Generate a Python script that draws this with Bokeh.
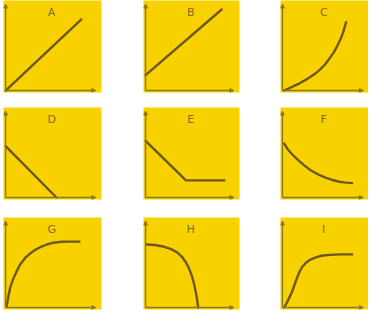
from bokeh.plotting import figure
from bokeh.layouts import column, row
from bokeh.models import Range1d, Arrow, NormalHead
from bokeh.core.properties import value
from bokeh.embed import file_html
from bokeh.resources import INLINE

labels = ["A", "B", "C", "D", "E", "F", "G", "H", "I"]

a_x = [0.0, 7.9]
a_y = [0.0, 7.9]
b_x = [0.0, 8.1]
b_y = [1.7, 9.0]
c_x = [0.2, 1.0, 2.0, 3.0, 3.7, 4.4, 5.0, 5.5, 6.0, 6.4, 6.8, 7.1, 7.4]
c_y = [0.0, 0.35, 0.8, 1.35, 1.8, 2.35, 2.95, 3.6, 4.3, 5.0, 5.8, 6.6, 7.6]
d_x = [0.0, 5.3]
d_y = [5.7, 0.0]
e_x = [0.0, 4.3, 8.4]
e_y = [6.3, 1.9, 1.9]
f_x = [0.2, 0.6, 1.0, 1.5, 1.9, 2.5, 3.1, 3.7, 4.4, 5.0, 5.8, 6.6, 7.4, 8.1]
f_y = [6.0, 5.4, 4.95, 4.45, 4.1, 3.6, 3.15, 2.8, 2.45, 2.2, 1.95, 1.75, 1.65, 1.6]
g_x = [0.1, 0.3, 0.5, 0.8, 1.1, 1.5, 2.0, 2.5, 3.0, 3.6, 4.3, 5.0, 5.8, 6.6, 7.7]
g_y = [0.1, 1.3, 2.3, 3.2, 3.9, 4.75, 5.45, 5.95, 6.35, 6.7, 7.0, 7.2, 7.3, 7.32, 7.32]
h_x = [0.1, 1.0, 2.0, 2.8, 3.4, 3.9, 4.3, 4.6, 4.9, 5.15, 5.35, 5.5, 5.6]
h_y = [7.0, 6.95, 6.75, 6.45, 6.1, 5.6, 5.0, 4.4, 3.6, 2.7, 1.7, 0.8, 0.0]
i_x = [0.2, 0.5, 0.8, 1.1, 1.4, 1.7, 2.0, 2.3, 2.7, 3.2, 3.8, 4.5, 5.5, 6.8, 8.1]
i_y = [0.0, 0.5, 1.1, 1.7, 2.5, 3.3, 4.0, 4.5, 4.95, 5.3, 5.55, 5.75, 5.85, 5.9, 5.9]

series = [(a_x, a_y), (b_x, b_y), (c_x, c_y), (d_x, d_y), (e_x, e_y),
          (f_x, f_y), (g_x, g_y), (h_x, h_y), (i_x, i_y)]

YELLOW = "#f7d200"
AXIS = "#8c7a14"
CURVE = "#6e5820"
LABEL = "#7d6c34"

col_w = [140, 136, 92]
col_l = [3, 3, 4]
col_r = [39, 37, 0]
row_h = [105, 109, 97]
row_t = [0, 2, 3]
row_b = [13, 15, 2]

rows = []
for r in range(3):
    figs = []
    for c in range(3):
        k = r * 3 + c
        p = figure(width=col_w[c], height=row_h[r], output_backend="svg",
                   toolbar_location=None, x_axis_location=None, y_axis_location=None,
                   x_range=Range1d(-0.22, 10), y_range=Range1d(-0.22, 10),
                   min_border_left=col_l[c], min_border_right=col_r[c],
                   min_border_top=row_t[r], min_border_bottom=row_b[r])
        p.background_fill_color = YELLOW
        p.border_fill_color = "white"
        p.outline_line_color = None
        p.grid.visible = False
        p.add_layout(Arrow(end=NormalHead(size=4, fill_color=AXIS, line_color=AXIS),
                           x_start=0, y_start=0, x_end=9.4, y_end=0,
                           line_color=AXIS, line_width=1.4))
        p.add_layout(Arrow(end=NormalHead(size=4, fill_color=AXIS, line_color=AXIS),
                           x_start=0, y_start=0, x_end=0, y_end=9.6,
                           line_color=AXIS, line_width=1.4))
        xs, ys = series[k]
        p.line(xs, ys, line_color=CURVE, line_width=2.4, line_cap="round", line_join="round")
        p.text(x=[4.8], y=[8.7], text=[labels[k]], text_align="center",
               text_baseline="middle", text_font_size="11px", text_color=LABEL,
               text_font=value("DejaVu Sans"))
        figs.append(p)
    rows.append(row(*figs))

layout = column(*rows)
open("out.html", "w").write(file_html(layout, INLINE))
